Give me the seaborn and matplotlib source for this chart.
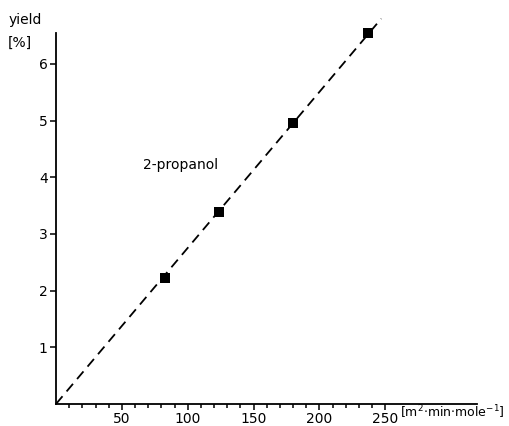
import seaborn as sns
import matplotlib.pyplot as plt
from matplotlib.ticker import FixedLocator

sns.set_theme(style = "ticks")
plt.rcParams['font.family'] = ['DejaVu Sans']
plt.rcParams['text.color'] = "black"
plt.rcParams['mathtext.default'] = "regular"

# Measured Points (2-propanol)
x_vals = [83, 124, 180, 237]
y_vals = [2.22, 3.39, 4.96, 6.54]

# Dashed Fit Line Through The Origin
line_x = [0, 247]
line_y = [0, 6.8]

x_ticks = [50, 100, 150, 200, 250]
y_ticks = [1, 2, 3, 4, 5, 6]

f = plt.figure(figsize = (5.1, 4.26), dpi = 100)
ax = f.add_axes([0.110, 0.052, 0.826, 0.871])

sns.lineplot(x = line_x, y = line_y, ax = ax, color = "black", linewidth = 1.3,
             linestyle = (0, (5.5, 3.5)), clip_on = False)
sns.scatterplot(x = x_vals, y = y_vals, ax = ax, marker = "s", s = 45,
                color = "black", edgecolor = "black", linewidth = 0, zorder = 3,
                clip_on = False)

ax.set(xlim = (0, 320), ylim = (0, 6.55))
ax.xaxis.set_major_locator(FixedLocator(x_ticks))
ax.xaxis.set_minor_locator(FixedLocator(range(10, 260, 10)))
ax.yaxis.set_major_locator(FixedLocator(y_ticks))
ax.tick_params(axis = "both", which = "major", length = 4, width = 1.1,
               color = "black", labelsize = 10, labelcolor = "black", pad = 2)
ax.tick_params(axis = "x", which = "minor", length = 3, width = 1.1, color = "black")

for side in ["left", "bottom"]:
    ax.spines[side].set_color("black")
    ax.spines[side].set_linewidth(1.3)
sns.despine(ax = ax)

# Axis Labels In The Corners
f.text(0.016, 0.952, "yield", fontsize = 10, va = "center", ha = "left")
f.text(0.016, 0.900, "[%]", fontsize = 10, va = "center", ha = "left")
f.text(0.990, 0.032, r"[m$^2$$\cdot$min$\cdot$mole$^{-1}$]", fontsize = 9,
       va = "center", ha = "right")
ax.text(66, 4.22, "2-propanol", fontsize = 10, va = "center", ha = "left")

plt.savefig("out.png", dpi = 100)
